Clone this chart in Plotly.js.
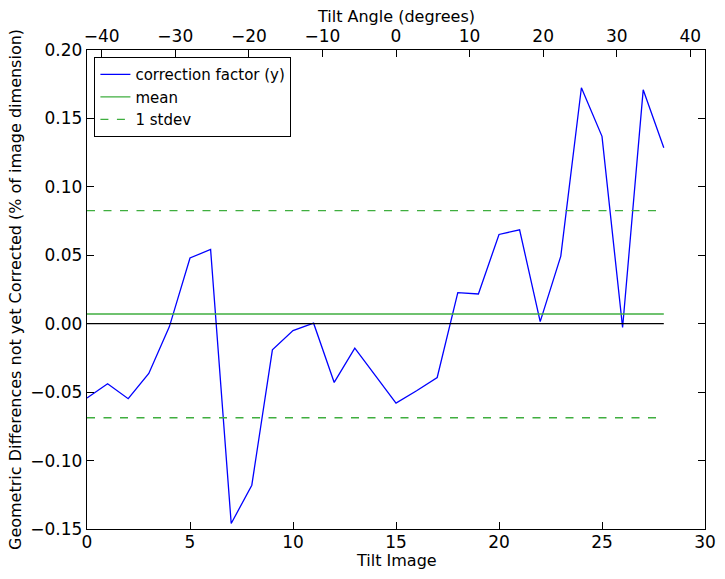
<!DOCTYPE html>
<html>
<head>
<meta charset="utf-8">
<script src="https://cdn.plot.ly/plotly-3.0.1.min.js"></script>
<style>html,body{margin:0;padding:0;background:#fff;}#chart{width:725px;height:579px;}</style>
</head>
<body>
<div id="chart"></div>
<script>
// Data
const tiltImage = [0,1,2,3,4,5,6,7,8,9,10,11,12,13,14,15,16,17,18,19,20,21,22,23,24,25,26,27,28];
const correctionFactorY = [-0.0543,-0.0439,-0.0548,-0.0363,-0.0021,0.0480,0.0543,-0.1460,-0.1180,-0.0191,-0.0050,0.0004,-0.0429,-0.0179,-0.0380,-0.0580,-0.0490,-0.0393,0.0227,0.0217,0.0652,0.0686,0.0015,0.0494,0.1724,0.1369,-0.0028,0.1709,0.1286];
const meanValue = 0.0071;
const stdevUpper = 0.0827;
const stdevLower = -0.0687;
const tiltAngleTicks = [-40,-30,-20,-10,0,10,20,30,40];
const tiltAngleRange = [-42, 42];

const xEnds = [tiltImage[0], tiltImage[tiltImage.length-1]];
const font = {family: 'DejaVu Sans, sans-serif', color: '#000'};
const green = '#3fae3f';
const titleFont = Object.assign({size: 16}, font);

const traces = [
  {x: tiltImage, y: correctionFactorY, mode: 'lines', name: 'correction factor (y)',
   line: {color: '#0000ff', width: 1.3}},
  {x: xEnds, y: [meanValue, meanValue], mode: 'lines', name: 'mean',
   line: {color: green, width: 1.3}},
  {x: xEnds, y: [stdevUpper, stdevUpper], mode: 'lines', name: '1 stdev',
   line: {color: green, width: 1.3, dash: '8px,8.5px'}},
  {x: xEnds, y: [stdevLower, stdevLower], mode: 'lines', name: '1 stdev', showlegend: false,
   line: {color: green, width: 1.3, dash: '8px,8.5px'}},
  {x: xEnds, y: [0, 0], mode: 'lines', showlegend: false,
   line: {color: '#000', width: 1.3}},
  {x: tiltAngleRange, y: [0, 0], xaxis: 'x2', mode: 'lines', showlegend: false,
   hoverinfo: 'skip', line: {color: 'rgba(0,0,0,0)', width: 0}}
];

const layout = {
  width: 725, height: 579,
  margin: {l: 86.5, r: 19.5, t: 50, b: 49.5},
  paper_bgcolor: '#fff', plot_bgcolor: '#fff',
  font: Object.assign({size: 17}, font),
  showlegend: true,
  legend: {x: 0.012, y: 0.985, xanchor: 'left', yanchor: 'top',
           bordercolor: '#000', borderwidth: 1, bgcolor: '#fff',
           font: Object.assign({size: 15}, font), itemwidth: 30,
           tracegroupgap: 0},
  xaxis: {range: [0, 30], dtick: 5, tick0: 0, showgrid: false, zeroline: false,
          showline: true, linecolor: '#000', linewidth: 1.3,
          ticks: 'inside', ticklen: 7, tickcolor: '#000', ticklabelstandoff: -3,
          tickfont: Object.assign({size: 17}, font)},
  xaxis2: {range: tiltAngleRange, overlaying: 'x', side: 'top', anchor: 'y',
           tickvals: tiltAngleTicks, showgrid: false, zeroline: false,
           showline: true, linecolor: '#000', linewidth: 1.3,
           ticks: 'inside', ticklen: 7, tickcolor: '#000',
           tickfont: Object.assign({size: 17}, font)},
  yaxis: {range: [-0.15, 0.20], dtick: 0.05, tick0: 0, tickformat: '.2f',
          showgrid: false, zeroline: false, showline: true, mirror: 'ticks',
          linecolor: '#000', linewidth: 1.3,
          ticks: 'inside', ticklen: 7, tickcolor: '#000',
          tickfont: Object.assign({size: 17}, font)},
  annotations: [
    {text: 'Tilt Image', xref: 'paper', yref: 'paper', x: 0.5, y: 0,
     xanchor: 'center', yanchor: 'middle', yshift: -31.5, showarrow: false, font: titleFont},
    {text: 'Tilt Angle (degrees)', xref: 'paper', yref: 'paper', x: 0.5, y: 1,
     xanchor: 'center', yanchor: 'middle', yshift: 34, showarrow: false, font: titleFont},
    {text: 'Geometric Differences not yet Corrected (% of image dimension)',
     xref: 'paper', yref: 'paper', x: 0, y: 0.5, xanchor: 'center', yanchor: 'middle',
     xshift: -71.5, textangle: -90, showarrow: false, font: titleFont}
  ]
};

Plotly.newPlot('chart', traces, layout, {displayModeBar: false, staticPlot: true});
</script>
</body>
</html>
